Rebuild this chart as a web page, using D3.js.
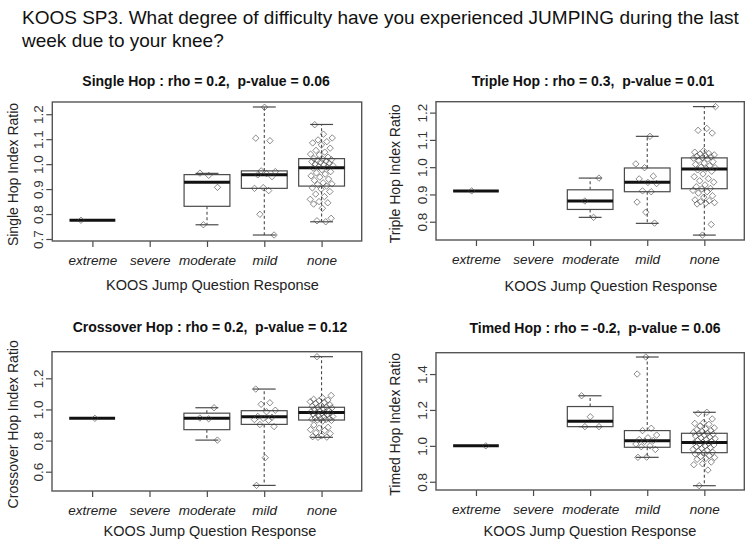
<!DOCTYPE html>
<html>
<head>
<meta charset="utf-8">
<script src="https://cdn.jsdelivr.net/npm/d3@7"></script>
<style>
  body { margin: 0; background: #fff; }
  svg { font-family: "Liberation Sans", Arial, Helvetica, sans-serif; }
  .pre { white-space: pre; }
</style>
</head>
<body>
<script>
const categories = ["extreme", "severe", "moderate", "mild", "none"];

const mainTitle = [
  "KOOS SP3. What degree of difficulty have you experienced JUMPING during the last",
  "week due to your knee?",
];

// box stats per category: [lower whisker, Q1, median, Q3, upper whisker]
const singleHopBoxes = [
  [0.775, 0.775, 0.775, 0.775, 0.775],
  null,
  [0.757, 0.831, 0.927, 0.958, 0.963],
  [0.716, 0.903, 0.957, 0.973, 1.229],
  [0.769, 0.912, 0.986, 1.022, 1.159],
];
const singleHopPoints = [
  [0.775],
  [],
  [0.757, 0.907, 0.955, 0.964],
  [1.228, 1.104, 1.094, 0.973, 0.970, 0.962, 0.957, 0.950, 0.906, 0.903, 0.894, 0.799, 0.716],
  [0.769, 0.773, 0.783, 0.823, 0.840, 0.845, 0.850, 0.859, 0.870, 0.880, 0.890, 0.900, 0.905,
   0.912, 0.918, 0.921, 0.925, 0.935, 0.940, 0.948, 0.953, 0.960, 0.965, 0.970, 0.978, 0.984,
   0.988, 0.990, 0.995, 0.998, 1.000, 1.003, 1.008, 1.010, 1.012, 1.015, 1.018, 1.020, 1.022,
   1.028, 1.037, 1.040, 1.048, 1.055, 1.064, 1.077, 1.085, 1.090, 1.097, 1.105, 1.120, 1.158],
];

const tripleHopBoxes = [
  [0.913, 0.913, 0.913, 0.913, 0.913],
  null,
  [0.816, 0.845, 0.876, 0.917, 0.960],
  [0.794, 0.910, 0.945, 0.997, 1.113],
  [0.751, 0.921, 0.993, 1.034, 1.222],
];
const tripleHopPoints = [
  [0.913],
  [],
  [0.816, 0.876, 0.960],
  [0.795, 0.835, 0.872, 0.910, 0.913, 0.940, 0.944, 0.957, 0.967, 0.998, 1.012, 1.113],
  [1.222, 1.142, 1.135, 1.125, 1.060, 1.055, 1.050, 1.048, 1.045, 1.042, 1.040, 1.038, 1.035,
   1.033, 1.030, 1.025, 1.020, 1.015, 1.010, 1.005, 1.000, 0.998, 0.995, 0.990, 0.985, 0.975,
   0.965, 0.958, 0.950, 0.945, 0.935, 0.928, 0.922, 0.920, 0.915, 0.910, 0.905, 0.895, 0.890,
   0.880, 0.877, 0.873, 0.870, 0.868, 0.865, 0.790, 0.751],
];

const crossoverHopBoxes = [
  [0.943, 0.943, 0.943, 0.943, 0.943],
  null,
  [0.803, 0.870, 0.943, 0.976, 1.011],
  [0.512, 0.904, 0.953, 0.992, 1.131],
  [0.821, 0.932, 0.981, 1.014, 1.339],
];
const crossoverHopPoints = [
  [0.943],
  [],
  [0.803, 0.940, 0.945, 1.011],
  [1.131, 1.043, 1.033, 0.995, 0.985, 0.955, 0.950, 0.943, 0.935, 0.930, 0.903, 0.890, 0.690, 0.512],
  [1.339, 1.090, 1.075, 1.065, 1.060, 1.055, 1.050, 1.045, 1.040, 1.030, 1.025, 1.020, 1.015,
   1.012, 1.010, 1.005, 1.000, 0.995, 0.990, 0.985, 0.982, 0.980, 0.978, 0.975, 0.970, 0.965,
   0.960, 0.955, 0.950, 0.945, 0.942, 0.940, 0.938, 0.935, 0.932, 0.930, 0.925, 0.900, 0.885,
   0.880, 0.870, 0.865, 0.850, 0.845, 0.830, 0.825, 0.822, 0.821],
];

const timedHopBoxes = [
  [1.000, 1.000, 1.000, 1.000, 1.000],
  null,
  [1.107, 1.107, 1.137, 1.219, 1.279],
  [0.936, 0.992, 1.029, 1.085, 1.495],
  [0.778, 0.962, 1.019, 1.070, 1.187],
];
const timedHopPoints = [
  [1.000],
  [],
  [1.107, 1.107, 1.162, 1.279],
  [1.495, 1.400, 1.098, 1.085, 1.060, 1.045, 1.035, 1.030, 1.025, 1.010, 1.000, 0.995, 0.980, 0.937, 0.936],
  [1.187, 1.180, 1.150, 1.130, 1.125, 1.120, 1.110, 1.100, 1.095, 1.090, 1.085, 1.080, 1.075,
   1.070, 1.068, 1.065, 1.060, 1.055, 1.050, 1.045, 1.040, 1.035, 1.030, 1.025, 1.020, 1.018,
   1.015, 1.010, 1.005, 1.000, 0.995, 0.990, 0.985, 0.980, 0.975, 0.970, 0.965, 0.962, 0.955,
   0.945, 0.940, 0.935, 0.930, 0.925, 0.910, 0.900, 0.895, 0.865, 0.778],
];

const panelTitles = [
  "Single Hop : rho = 0.2,  p-value = 0.06",
  "Triple Hop : rho = 0.3,  p-value = 0.01",
  "Crossover Hop : rho = 0.2,  p-value = 0.12",
  "Timed Hop : rho = -0.2,  p-value = 0.06",
];
const yLabels = [
  "Single Hop Index Ratio",
  "Triple Hop Index Ratio",
  "Crossover Hop Index Ratio",
  "Timed Hop Index Ratio",
];
const yTicks = [
  [0.7, 0.8, 0.9, 1.0, 1.1, 1.2],
  [0.8, 0.9, 1.0, 1.1, 1.2],
  [0.6, 0.8, 1.0, 1.2],
  [0.8, 1.0, 1.2, 1.4],
];
const yDomains = [
  [0.692, 1.249],
  [0.733, 1.240],
  [0.476, 1.371],
  [0.754, 1.519],
];
const xLabel = "KOOS Jump Question Response";

// layout of each panel (pixels)
const layout = [
  { left: 52.3, right: 361.7, top: 102, bottom: 241, titleX: 206, titleY: 86, yLabX: 17.5, xLabX: 212.5, xLabY: 290 },
  { left: 436, right: 744.3, top: 101.7, bottom: 240, titleX: 593, titleY: 86, yLabX: 400, xLabX: 611, xLabY: 291 },
  { left: 52, right: 361.7, top: 351.7, bottom: 491, titleX: 210, titleY: 332, yLabX: 18, xLabX: 210, xLabY: 536 },
  { left: 436, right: 744.3, top: 352.7, bottom: 490, titleX: 595, titleY: 333, yLabX: 400, xLabX: 590, xLabY: 536 },
];

const allBoxes = [singleHopBoxes, tripleHopBoxes, crossoverHopBoxes, timedHopBoxes];
const allPoints = [singleHopPoints, tripleHopPoints, crossoverHopPoints, timedHopPoints];

const svg = d3.select("body").append("svg")
  .attr("width", 750)
  .attr("height", 545);

svg.append("rect").attr("width", 750).attr("height", 545).attr("fill", "#fff");

svg.selectAll(".main-title")
  .data(mainTitle)
  .enter()
  .append("text")
  .attr("class", "main-title")
  .attr("x", 22)
  .attr("y", (d, i) => 24 + i * 23)
  .attr("font-size", 19)
  .attr("fill", "#111")
  .text((d) => d);

const ink = "#4a4a4a";
const boxWex = 0.8;

layout.forEach((L, p) => {
  const g = svg.append("g");
  const x = d3.scaleLinear().domain([0.3, 5.7]).range([L.left, L.right]);
  const y = d3.scaleLinear().domain(yDomains[p]).range([L.bottom, L.top]);
  const unit = x(1) - x(0);

  // x axis
  const xa = g.append("g")
    .attr("transform", `translate(0,${L.bottom})`)
    .call(d3.axisBottom(x).tickValues([1, 2, 3, 4, 5]).tickSize(6)
      .tickFormat((d) => categories[d - 1]));
  xa.select(".domain").remove();
  xa.selectAll("line").attr("stroke", ink).attr("stroke-width", 1.2);
  xa.selectAll("text")
    .attr("y", 24).attr("dy", 0)
    .attr("font-size", 13.5)
    .attr("font-style", "italic")
    .attr("font-family", "Liberation Sans, Arial, sans-serif")
    .attr("fill", "#222");

  // y axis
  const ya = g.append("g")
    .attr("transform", `translate(${L.left},0)`)
    .call(d3.axisLeft(y).tickValues(yTicks[p]).tickSize(6).tickFormat(d3.format(".1f")));
  ya.select(".domain").remove();
  ya.selectAll("line").attr("stroke", ink).attr("stroke-width", 1.2);
  ya.selectAll("text")
    .attr("transform", "rotate(-90)")
    .attr("x", 0).attr("y", -9).attr("dy", 0)
    .attr("text-anchor", "middle")
    .attr("font-size", 13.5)
    .attr("font-family", "Liberation Sans, Arial, sans-serif")
    .attr("fill", "#333");

  // frame
  g.append("rect")
    .attr("x", L.left).attr("y", L.top)
    .attr("width", L.right - L.left).attr("height", L.bottom - L.top)
    .attr("fill", "none").attr("stroke", "#555").attr("stroke-width", 1.4);

  // boxes
  allBoxes[p].forEach((b, i) => {
    if (!b) return;
    const cx = x(i + 1);
    const hw = (boxWex * unit) / 2;
    const [lo, q1, med, q3, hi] = b;
    g.append("line").attr("x1", cx).attr("x2", cx).attr("y1", y(q3)).attr("y2", y(hi))
      .attr("stroke", ink).attr("stroke-width", 1.1).attr("stroke-dasharray", "3,2.5");
    g.append("line").attr("x1", cx).attr("x2", cx).attr("y1", y(q1)).attr("y2", y(lo))
      .attr("stroke", ink).attr("stroke-width", 1.1).attr("stroke-dasharray", "3,2.5");
    [lo, hi].forEach((v) => {
      g.append("line").attr("x1", cx - hw / 2).attr("x2", cx + hw / 2)
        .attr("y1", y(v)).attr("y2", y(v)).attr("stroke", ink).attr("stroke-width", 1.2);
    });
    g.append("rect")
      .attr("x", cx - hw).attr("width", 2 * hw)
      .attr("y", y(q3)).attr("height", y(q1) - y(q3))
      .attr("fill", "none").attr("stroke", ink).attr("stroke-width", 1.2);
    g.append("line").attr("x1", cx - hw).attr("x2", cx + hw)
      .attr("y1", y(med)).attr("y2", y(med))
      .attr("stroke", "#111").attr("stroke-width", 3);
  });

  // jittered points (open diamonds)
  allPoints[p].forEach((vals, i) => {
    vals.forEach((v, k) => {
      const jit = (((k * 0.618034 + p * 0.31 + i * 0.17) % 1) - 0.5) * 0.4;
      const px = x(i + 1 + jit);
      const py = y(v);
      const r = 3.2;
      g.append("path")
        .attr("d", `M${px},${py - r}L${px + r},${py}L${px},${py + r}L${px - r},${py}Z`)
        .attr("fill", "none")
        .attr("stroke", "rgba(60,60,60,0.6)")
        .attr("stroke-width", 1);
    });
  });

  // titles and labels
  g.append("text")
    .attr("class", "pre")
    .attr("x", L.titleX).attr("y", L.titleY)
    .attr("text-anchor", "middle")
    .attr("font-size", 14).attr("font-weight", "bold").attr("fill", "#111")
    .text(panelTitles[p]);

  g.append("text")
    .attr("x", L.xLabX).attr("y", L.xLabY)
    .attr("text-anchor", "middle")
    .attr("font-size", 14.5).attr("fill", "#222")
    .text(xLabel);

  g.append("text")
    .attr("transform", `translate(${L.yLabX},${(L.top + L.bottom) / 2 + 3}) rotate(-90)`)
    .attr("text-anchor", "middle")
    .attr("font-size", 14).attr("fill", "#222")
    .text(yLabels[p]);
});
</script>
</body>
</html>
